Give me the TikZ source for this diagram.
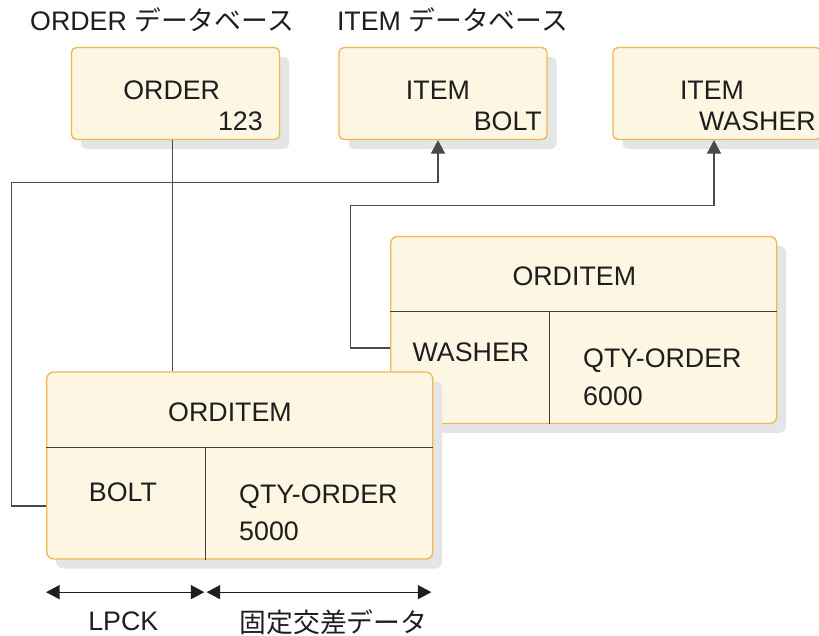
\documentclass[tikz,border=0pt]{standalone}
\usepackage{fontspec}
\setmainfont{Liberation Sans}
\newfontfamily\jpfont{Noto Sans CJK JP}
\usetikzlibrary{arrows.meta,positioning,calc}
\definecolor{cream}{HTML}{FDF6E3}
\definecolor{edge}{HTML}{F2B64E}
\definecolor{shade}{HTML}{E4E5E7}
\definecolor{ink}{HTML}{1E1E1E}
\definecolor{wire}{HTML}{4A4A4A}
\tikzset{
  >={Triangle[length=13.5pt,width=14pt]},
  every node/.style={font=\fontsize{26.8}{32}\selectfont,text=ink},
  dbbox/.style={draw=edge,line width=1.3pt,fill=cream,rounded corners=5pt,minimum width=208pt,minimum height=92pt,inner sep=0pt,
    preaction={fill=shade,draw=none,transform canvas={shift={(9.5pt,-9.5pt)}}}},
  segbox/.style={dbbox,minimum width=386pt,minimum height=187pt,rounded corners=7pt},
  divider/.style={draw=ink!85,line width=1.1pt},
  link/.style={draw=wire,line width=1.3pt},
  linkarr/.style={link,->},
  dimarr/.style={<->,draw=ink,line width=1.3pt},
  lbl/.style={inner sep=0pt},
}
\begin{document}
\begin{tikzpicture}[x=1pt,y=-1pt]
\useasboundingbox (0,0) rectangle (819,635);
% database titles
\node[lbl,anchor=base] (ordtitle) at (162,30) {ORDER {\jpfont データベース}};
\node[lbl,anchor=base] (itemtitle) at (452.5,30) {ITEM {\jpfont データベース}};
% root segments
\node[dbbox] (order) at (175.5,93.5) {};
\node[dbbox] (itembolt) at (443,93.5) {};
\node[dbbox] (itemwasher) at (717,93.5) {};
\node[lbl,anchor=base] (ordname) at (171.7,99) {ORDER};
\node[lbl,anchor=base east] (ordkey) at (263,130) {123};
\node[lbl,anchor=base] (boltname) at (438,99) {ITEM};
\node[lbl,anchor=base east] (boltkey) at (542,130) {BOLT};
\node[lbl,anchor=base] (washname) at (712,99) {ITEM};
\node[lbl,anchor=base east] (washkey) at (816,130) {WASHER};
% ORDITEM segments
\node[segbox] (oiwasher) at (583.7,329.9) {};
\draw[divider] ($(oiwasher.north west)+(0,76)$) -- ($(oiwasher.north east)+(0,76)$);
\draw[divider] ($(oiwasher.north west)+(159,76)$) -- ($(oiwasher.south west)+(159,0)$);
\node[lbl,anchor=base] (oiwname) at (574.3,285) {ORDITEM};
\node[lbl,anchor=base] (oiwkey) at (471,361.7) {WASHER};
\node[lbl,anchor=base west] (oiwqty) at (583,367.7) {QTY-ORDER};
\node[lbl,anchor=base west] (oiwval) at (583,405) {6000};
\node[segbox] (oibolt) at (239.7,465.5) {};
\draw[divider] ($(oibolt.north west)+(0,76)$) -- ($(oibolt.north east)+(0,76)$);
\draw[divider] ($(oibolt.north west)+(159,76)$) -- ($(oibolt.south west)+(159,0)$);
\node[lbl,anchor=base] (oibname) at (230,421.7) {ORDITEM};
\node[lbl,anchor=base] (oibkey) at (123,501.7) {BOLT};
\node[lbl,anchor=base west] (oibqty) at (239,503.3) {QTY-ORDER};
\node[lbl,anchor=base west] (oibval) at (239,540) {5000};
% pointers
\coordinate (ordfoot) at ([xshift=-3.2pt]order.south);
\draw[link] (ordfoot) -- (ordfoot |- oibolt.north);
\draw[linkarr] ([yshift=-40.5pt]oibolt.west) -- ++(-34.7,0) |- ($(itembolt.south)+(-5,42)$) -- ([xshift=-5pt]itembolt.south);
\draw[linkarr] ([yshift=-18pt]oiwasher.west) -- ++(-39.7,0) |- ($(itemwasher.south)+(-3,65.5)$) -- ([xshift=-3pt]itemwasher.south);
% key and data extents
\draw[dimarr] ($(oibolt.south west)+(0,32.5)$) -- ($(oibolt.south west)+(158.3,32.5)$);
\draw[dimarr] ($(oibolt.south west)+(160.6,32.5)$) -- ($(oibolt.south east)+(-2,32.5)$);
\node[lbl,anchor=base] (lpck) at (123.3,630.7) {LPCK};
\node[lbl] (fixdata) at (333.4,622) {\jpfont 固定交差データ};
\end{tikzpicture}
\end{document}
